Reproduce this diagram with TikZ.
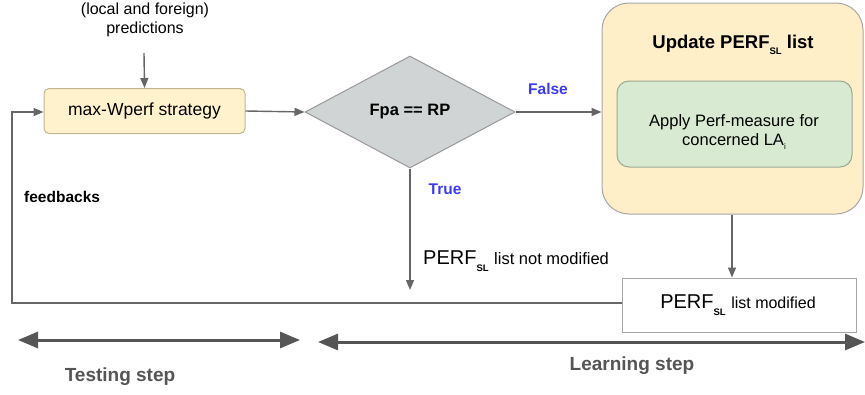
\documentclass[tikz,border=0pt]{standalone}
\usepackage{fontspec}
\setmainfont{Liberation Sans}
\usetikzlibrary{shapes.geometric,arrows.meta}
\definecolor{lineg}{HTML}{666666}
\definecolor{boxy}{HTML}{FFF2CC}
\definecolor{boxyb}{HTML}{C2B591}
\definecolor{updy}{HTML}{FFEFC8}
\definecolor{grn}{HTML}{D9EAD3}
\definecolor{grnb}{HTML}{9AA894}
\definecolor{dia}{HTML}{D0D4D4}
\definecolor{blu}{HTML}{3A3AFF}
\definecolor{dg}{HTML}{555555}
\newcommand\fs[1]{\fontsize{#1}{#1}\selectfont}
\newcommand\subsl{\raisebox{-0.6ex}{\fs{9.5}\bfseries SL}}
\tikzset{
  conn/.style={draw=lineg, line width=1.4pt, -{Triangle[length=10pt,width=8pt]}},
  bigarr/.style={draw=dg, line width=3pt, {Triangle[length=20pt,width=16pt]}-{Triangle[length=20pt,width=16pt]}},
  txt/.style={inner sep=0pt, text=black},
  steplbl/.style={inner sep=0pt, text=dg, font=\fs{19}\bfseries},
}
\begin{document}
\begin{tikzpicture}[x=1pt,y=-1pt]
\useasboundingbox (0,0) rectangle (865,394);
% input text
\node[txt, align=center, font=\fs{16}] (inp) at (145,20) {(local and foreign)\\[3pt]predictions};
\coordinate (inpe) at (144,53);
% max-Wperf box
\node[draw=boxyb, fill=boxy, rounded corners=5pt, line width=1pt, minimum width=201pt, minimum height=45pt, font=\fs{17.5}] (mw) at (144.5,111) {max-Wperf strategy};
% diamond
\node[diamond, draw=gray!80, fill=dia, line width=1pt, minimum width=210pt, minimum height=112pt, inner sep=0pt, font=\fs{16.5}\bfseries] (dm) at (410,112) {};
\node[txt, font=\fs{16.5}\bfseries] (dmt) at (410,112) {Fpa == RP};
% update box
\node[draw=gray!70, fill=updy, rounded corners=27pt, line width=1pt, minimum width=261pt, minimum height=211pt] (upd) at (732.5,108.5) {};
\node[txt, font=\fs{18.5}\bfseries] (updt) at (733,45) {Update PERF\subsl{} list};
\node[draw=grnb, fill=grn, rounded corners=12pt, line width=1pt, minimum width=235pt, minimum height=86pt] (grb) at (734.5,124) {};
\node[txt, align=center, font=\fs{16.5}] (grt) at (734,132) {Apply Perf-measure for\\[2pt]concerned LA\raisebox{-0.5ex}{\fs{8}i}};
% modified box
\node[draw=gray!70, fill=white, line width=1pt, minimum width=234pt, minimum height=54pt] (mod) at (739,305) {};
\node[txt] (modt) at (738,305) {\fs{20}PERF\subsl{} \fs{16}list modified};
% not modified text
\node[txt, anchor=west] (nmod) at (423,261) {\fs{20}PERF\subsl{} \fs{16.5}list not modified};
\coordinate (trueend) at (410,290);
% labels
\node[txt, font=\fs{15.5}\bfseries, text=blu] (fl) at (548,89) {False};
\node[txt, font=\fs{15.5}\bfseries, text=blu] (tl) at (445,189) {True};
\node[txt, font=\fs{15.5}\bfseries, anchor=west] (fb) at (24,197) {feedbacks};
% connectors
\draw[conn] (inpe) -- (mw.north);
\draw[conn] (mw.east) -- (dm.west);
\draw[conn] (dm.east) -- (dm.east -| upd.west);
\draw[conn] (dm.south) -- (trueend);
\draw[conn] (upd.south -| 732,0) -- (mod.north -| 732,0);
\coordinate (fb1) at (12,303);
\coordinate (fb2) at (12,112);
\draw[conn] (mod.west |- fb1) -- (fb1) -- (fb2) -- (fb2 -| mw.west);
% step arrows
\coordinate (ts1) at (18,340);
\coordinate (ts2) at (300,340);
\coordinate (ls1) at (318,342);
\coordinate (ls2) at (865,342);
\draw[bigarr] (ts1) -- (ts2);
\draw[bigarr] (ls1) -- (ls2);
\node[steplbl] (tst) at (120,377) {Testing step};
\node[steplbl] (lst) at (632,366) {Learning step};
\end{tikzpicture}
\end{document}
